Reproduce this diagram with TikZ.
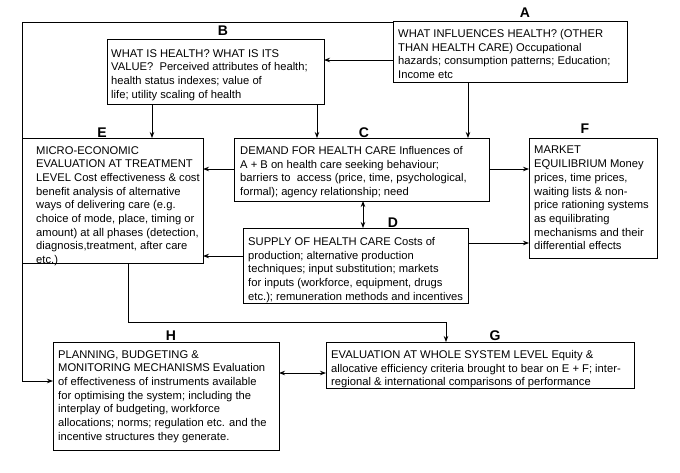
\documentclass[tikz,border=0pt]{standalone}
\usepackage{fontspec}
\setmainfont{Liberation Sans}
\usetikzlibrary{arrows.meta}
\begin{document}
\begin{tikzpicture}[x=1pt,y=-1pt,
  box/.style={draw=black,line width=0.9pt,inner sep=0pt,outer sep=0pt,rectangle},
  txt/.style={anchor=north west,inner sep=0pt,align=left,font=\fontsize{11.2}{13.7}\selectfont},
  lab/.style={anchor=base,inner sep=0pt,font=\fontsize{14}{16}\selectfont\bfseries},
  conn/.style={draw=black,line width=0.9pt},
  arr/.style={conn,-{Stealth[length=6pt,width=4.5pt]}},
  darr/.style={conn,{Stealth[length=6pt,width=4.5pt]}-{Stealth[length=6pt,width=4.5pt]}}]
\useasboundingbox[fill=white] (0,0) rectangle (680,472);
% boxes
\node[box,minimum width=234pt,minimum height=61pt] (A) at (510,51.5) {};
\node[box,minimum width=217pt,minimum height=65pt] (B) at (215.5,71.5) {};
\node[box,minimum width=255pt,minimum height=63pt] (C) at (361.5,169.5) {};
\node[box,minimum width=225pt,minimum height=75pt] (D) at (355.5,265.5) {};
\node[box,minimum width=181pt,minimum height=125pt] (E) at (112.5,200.5) {};
\node[box,minimum width=128pt,minimum height=120pt] (F) at (593,198) {};
\node[box,minimum width=308pt,minimum height=46pt] (G) at (480,365) {};
\node[box,minimum width=226pt,minimum height=108pt] (H) at (166,396) {};
% texts
\node[txt] (tA) at (398,29) {WHAT INFLUENCES HEALTH? (OTHER\\THAN HEALTH CARE) Occupational\\hazards; consumption patterns; Education;\\Income etc};
\node[txt] (tB) at (111,49) {WHAT IS HEALTH? WHAT IS ITS\\VALUE?\ \ Perceived attributes of health;\\health status indexes; value of\\life; utility scaling of health};
\node[txt] (tC) at (240,146) {DEMAND FOR HEALTH CARE Influences of\\A + B on health care seeking behaviour;\\barriers to\ \ access (price, time, psychological,\\formal); agency relationship; need};
\node[txt] (tD) at (248,237) {SUPPLY OF HEALTH CARE Costs of\\production; alternative production\\techniques; input substitution; markets\\for inputs (workforce, equipment, drugs\\etc.); remuneration methods and incentives};
\node[txt] (tE) at (36,146) {MICRO-ECONOMIC\\EVALUATION AT TREATMENT\\LEVEL Cost effectiveness \& cost\\benefit analysis of alternative\\ways of delivering care (e.g.\\choice of mode, place, timing or\\amount) at all phases (detection,\\diagnosis,treatment, after care\\etc.)};
\node[txt] (tF) at (534,146) {MARKET\\EQUILIBRIUM Money\\prices, time prices,\\waiting lists \& non-\\price rationing systems\\as equilibrating\\mechanisms and their\\differential effects};
\node[txt] (tG) at (331,350) {EVALUATION AT WHOLE SYSTEM LEVEL Equity \&\\allocative efficiency criteria brought to bear on E + F; inter-\\regional \& international comparisons of performance};
\node[txt] (tH) at (58,350) {PLANNING, BUDGETING \&\\MONITORING MECHANISMS Evaluation\\of effectiveness of instruments available\\for optimising the system; including the\\interplay of budgeting, workforce\\allocations; norms; regulation etc. and the\\incentive structures they generate.};
% letters
\node[lab] (lA) at (525,17) {A};
\node[lab] (lB) at (223,35) {B};
\node[lab] (lC) at (364,137) {C};
\node[lab] (lD) at (393,227) {D};
\node[lab] (lE) at (102,137) {E};
\node[lab] (lF) at (585,133) {F};
\node[lab] (lG) at (495,340) {G};
\node[lab] (lH) at (171,340) {H};
% connectors
\draw[arr] (A.west |- 0,60) -- (B.east |- 0,60);
\draw[arr] (A.west |- 0,22) -- (22,22) -- (22,381) -- (H.west |- 0,381);
\draw[arr] (B.south -| 152,0) -- (E.north -| 152,0);
\draw[arr] (B.south -| 317,0) -- (C.north -| 317,0);
\draw[arr] (A.south -| 468,0) -- (C.north -| 468,0);
\draw[arr] (C.west |- 0,169) -- (E.east |- 0,169);
\draw[arr] (D.west |- 0,256) -- (E.east |- 0,256);
\draw[arr] (C.east |- 0,169) -- (F.west |- 0,169);
\draw[arr] (D.east |- 0,243) -- (F.west |- 0,243);
\draw[darr] (C.south -| 363,0) -- (D.north -| 363,0);
\draw[arr] (E.south -| 128,0) -- (128,322) -- (446,322) -- (G.north -| 446,0);
\draw[darr] (H.east |- 0,373) -- (G.west |- 0,373);
\end{tikzpicture}
\end{document}
